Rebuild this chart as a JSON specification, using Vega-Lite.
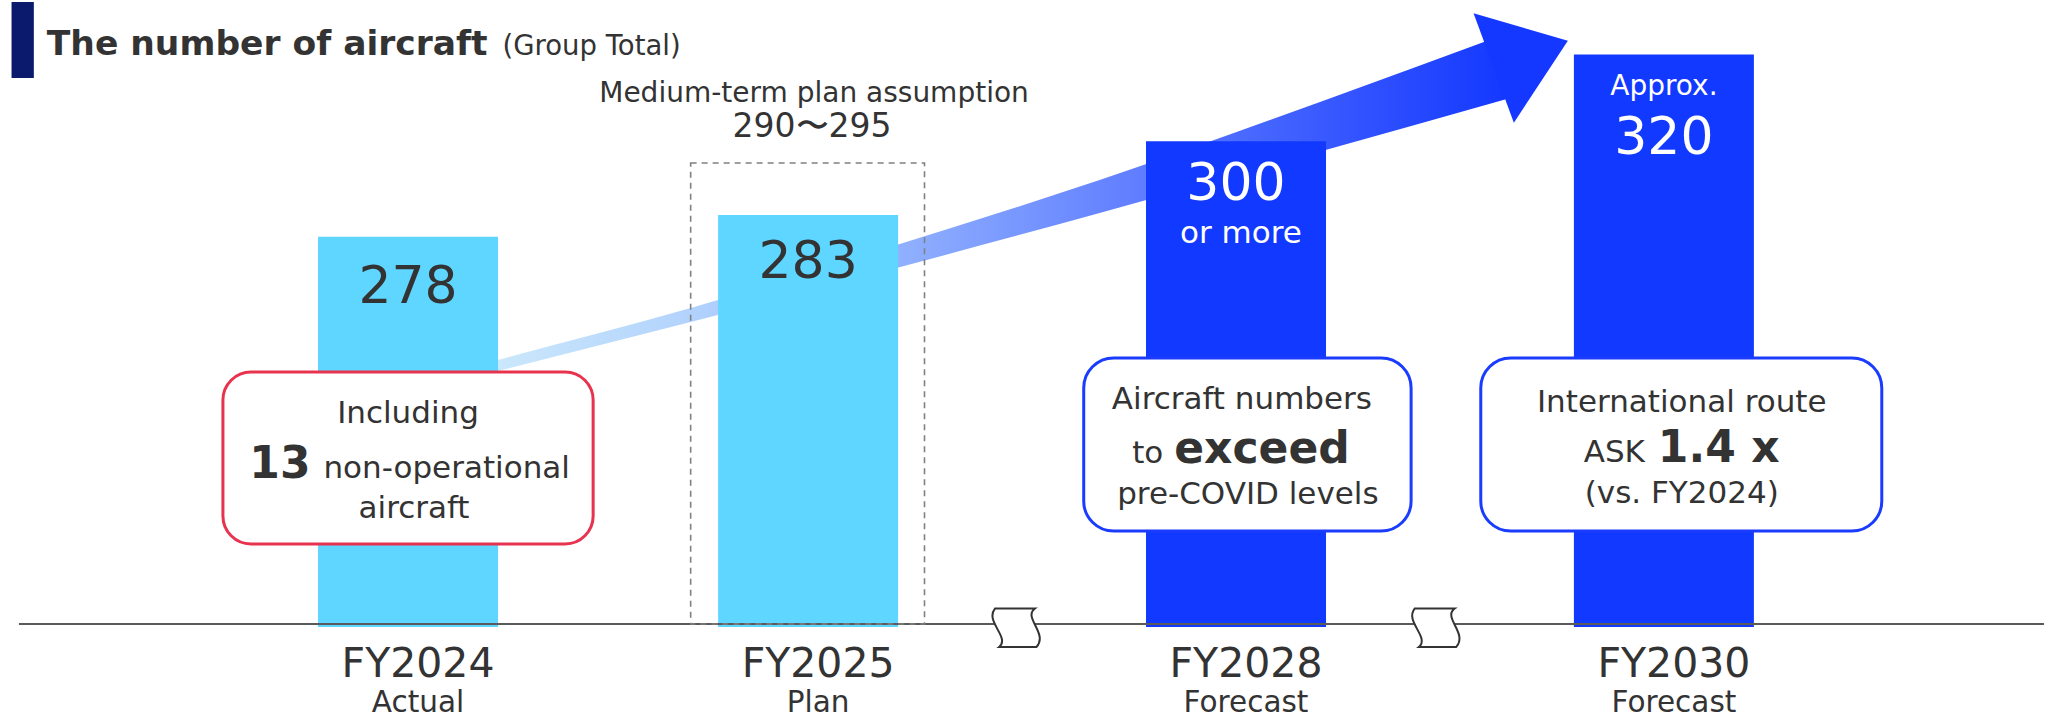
{
  "$schema": "https://vega.github.io/schema/vega-lite/v6.json",
  "width": 2049,
  "height": 719,
  "autosize": {"type": "none"},
  "padding": 0,
  "background": "white",
  "config": {"view": {"stroke": null}, "axis": {"disable": true}, "text": {"font": "DejaVu Sans"}},
  "datasets": {
    "fleet": [
      {"fy": "FY2024", "status": "Actual", "aircraft": 278, "slot": 0},
      {"fy": "FY2025", "status": "Plan", "aircraft": 283, "slot": 0.935},
      {"fy": "FY2028", "status": "Forecast", "aircraft": 300, "slot": 1.935},
      {"fy": "FY2030", "status": "Forecast", "aircraft": 320, "slot": 2.935}
    ],
    "arrow": [
      {"pos": 0.1512, "upper": 248.06, "lower": 245.62},
      {"pos": 0.2093, "upper": 249.61, "lower": 247.07},
      {"pos": 0.6605, "upper": 261.59, "lower": 258.36},
      {"pos": 1.1419, "upper": 276.1, "lower": 270.8},
      {"pos": 1.6163, "upper": 291.07, "lower": 283.47},
      {"pos": 2.1442, "upper": 309.5, "lower": 297.98},
      {"pos": 2.5698, "upper": 324.87, "lower": 309.8}
    ]
  },
  "layer": [
    {
      "data": {"name": "arrow"},
      "mark": {"type": "area", "interpolate": "monotone", "fill": {"gradient": "linear", "x1": 0, "y1": 0, "x2": 1, "y2": 0, "stops": [{"offset": 0, "color": "#cdeafb"}, {"offset": 0.2, "color": "#b4d4fd"}, {"offset": 0.4, "color": "#93b3fe"}, {"offset": 0.65, "color": "#5e7cff"}, {"offset": 0.85, "color": "#3354ff"}, {"offset": 1, "color": "#1438ff"}]}},
      "encoding": {
        "x": {"field": "pos", "type": "quantitative", "scale": {"domain": [-0.9419, 3.8233], "nice": false, "zero": false}},
        "y": {"field": "upper", "type": "quantitative", "scale": {"domain": [166.91, 332.54], "nice": false, "zero": false}},
        "y2": {"field": "lower"}
      }
    },
    {
      "data": {"values": [{}]},
      "mark": {"type": "point", "shape": "M-0.898,-0.912L0.988,-0.364L-0.092,1.276Z", "size": 10000, "filled": true, "fill": "#1438ff", "opacity": 1, "strokeWidth": 0},
      "encoding": {
        "x": {"datum": 2.5951, "type": "quantitative", "scale": {"domain": [-0.9419, 3.8233], "nice": false, "zero": false}},
        "y": {"datum": 318.97, "type": "quantitative", "scale": {"domain": [166.91, 332.54], "nice": false, "zero": false}}
      }
    },
    {
      "data": {"name": "fleet"},
      "mark": {"type": "bar", "width": 180},
      "encoding": {
        "x": {"field": "slot", "type": "quantitative", "scale": {"domain": [-0.9419, 3.8233], "nice": false, "zero": false}},
        "y": {"field": "aircraft", "type": "quantitative", "scale": {"domain": [166.91, 332.54], "nice": false, "zero": false}},
        "y2": {"datum": 188.1},
        "color": {"field": "status", "type": "nominal", "scale": {"domain": ["Actual", "Plan", "Forecast"], "range": ["#5fd6ff", "#5fd6ff", "#1239ff"]}, "legend": null}
      }
    },
    {
      "data": {"values": [{}]},
      "mark": {"type": "rule", "color": "#5a5a5a", "strokeWidth": 2},
      "encoding": {
        "x": {"datum": -0.9093, "type": "quantitative", "scale": {"domain": [-0.9419, 3.8233], "nice": false, "zero": false}},
        "x2": {"datum": 3.8233},
        "y": {"datum": 188.79, "type": "quantitative", "scale": {"domain": [166.91, 332.54], "nice": false, "zero": false}}
      }
    },
    {
      "data": {"values": [{}]},
      "mark": {"type": "rect", "fillOpacity": 0, "stroke": "#808080", "strokeDash": [6, 5], "strokeWidth": 1.6},
      "encoding": {
        "x": {"datum": 0.6605, "type": "quantitative", "scale": {"domain": [-0.9419, 3.8233], "nice": false, "zero": false}},
        "x2": {"datum": 1.207},
        "y": {"datum": 294.99, "type": "quantitative", "scale": {"domain": [166.91, 332.54], "nice": false, "zero": false}},
        "y2": {"datum": 188.79}
      }
    },
    {
      "data": {"values": [{}]},
      "mark": {"type": "point", "shape": "M-1.08,-0.95L0.92,-0.95C0.3,-0.5 1.6,0.3 1.0,0.97L-0.87,0.97C-0.3,0.5 -1.6,-0.3 -1.08,-0.95Z", "size": 1600, "filled": true, "fill": "white", "stroke": "#333333", "strokeWidth": 2, "opacity": 1},
      "encoding": {
        "x": {"datum": 1.4221, "type": "quantitative", "scale": {"domain": [-0.9419, 3.8233], "nice": false, "zero": false}},
        "y": {"datum": 187.98, "type": "quantitative", "scale": {"domain": [166.91, 332.54], "nice": false, "zero": false}}
      }
    },
    {
      "data": {"values": [{}]},
      "mark": {"type": "point", "shape": "M-1.08,-0.95L0.92,-0.95C0.3,-0.5 1.6,0.3 1.0,0.97L-0.87,0.97C-0.3,0.5 -1.6,-0.3 -1.08,-0.95Z", "size": 1600, "filled": true, "fill": "white", "stroke": "#333333", "strokeWidth": 2, "opacity": 1},
      "encoding": {
        "x": {"datum": 2.403, "type": "quantitative", "scale": {"domain": [-0.9419, 3.8233], "nice": false, "zero": false}},
        "y": {"datum": 187.98, "type": "quantitative", "scale": {"domain": [166.91, 332.54], "nice": false, "zero": false}}
      }
    },
    {
      "data": {"values": [{}]},
      "mark": {"type": "rect", "fill": "white", "stroke": "#e8334f", "strokeWidth": 3, "cornerRadius": 28},
      "encoding": {
        "x": {"datum": -0.4326, "type": "quantitative", "scale": {"domain": [-0.9419, 3.8233], "nice": false, "zero": false}},
        "x2": {"datum": 0.4326},
        "y": {"datum": 246.84, "type": "quantitative", "scale": {"domain": [166.91, 332.54], "nice": false, "zero": false}},
        "y2": {"datum": 207.22}
      }
    },
    {
      "data": {"values": [{}]},
      "mark": {"type": "rect", "fill": "white", "stroke": "#1a3cff", "strokeWidth": 3, "cornerRadius": 30},
      "encoding": {
        "x": {"datum": 1.5791, "type": "quantitative", "scale": {"domain": [-0.9419, 3.8233], "nice": false, "zero": false}},
        "x2": {"datum": 2.3442},
        "y": {"datum": 250.07, "type": "quantitative", "scale": {"domain": [166.91, 332.54], "nice": false, "zero": false}},
        "y2": {"datum": 210.21}
      }
    },
    {
      "data": {"values": [{}]},
      "mark": {"type": "rect", "fill": "white", "stroke": "#1a3cff", "strokeWidth": 3, "cornerRadius": 30},
      "encoding": {
        "x": {"datum": 2.507, "type": "quantitative", "scale": {"domain": [-0.9419, 3.8233], "nice": false, "zero": false}},
        "x2": {"datum": 3.4442},
        "y": {"datum": 250.07, "type": "quantitative", "scale": {"domain": [166.91, 332.54], "nice": false, "zero": false}},
        "y2": {"datum": 210.21}
      }
    },
    {
      "data": {"values": [{}]},
      "mark": {"type": "rect", "fill": "#0c1a6e"},
      "encoding": {
        "x": {"datum": -0.9266, "type": "quantitative", "scale": {"domain": [-0.9419, 3.8233], "nice": false, "zero": false}},
        "x2": {"datum": -0.8745},
        "y": {"datum": 332.08, "type": "quantitative", "scale": {"domain": [166.91, 332.54], "nice": false, "zero": false}},
        "y2": {"datum": 314.57}
      }
    },
    {
      "data": {"values": [{}]},
      "mark": {"type": "text", "text": "The number of aircraft", "fontSize": 34.5, "fontWeight": "bold", "color": "#333333", "align": "left", "baseline": "alphabetic"},
      "encoding": {
        "x": {"datum": -0.8442, "type": "quantitative", "scale": {"domain": [-0.9419, 3.8233], "nice": false, "zero": false}},
        "y": {"datum": 319.87, "type": "quantitative", "scale": {"domain": [166.91, 332.54], "nice": false, "zero": false}}
      }
    },
    {
      "data": {"values": [{}]},
      "mark": {"type": "text", "text": "(Group Total)", "fontSize": 27.5, "color": "#333333", "align": "left", "baseline": "alphabetic"},
      "encoding": {
        "x": {"datum": 0.2209, "type": "quantitative", "scale": {"domain": [-0.9419, 3.8233], "nice": false, "zero": false}},
        "y": {"datum": 319.87, "type": "quantitative", "scale": {"domain": [166.91, 332.54], "nice": false, "zero": false}}
      }
    },
    {
      "data": {"values": [{}]},
      "mark": {"type": "text", "text": "Medium-term plan assumption", "fontSize": 28, "color": "#333333", "align": "center", "baseline": "alphabetic"},
      "encoding": {
        "x": {"datum": 0.9488, "type": "quantitative", "scale": {"domain": [-0.9419, 3.8233], "nice": false, "zero": false}},
        "y": {"datum": 309.04, "type": "quantitative", "scale": {"domain": [166.91, 332.54], "nice": false, "zero": false}}
      }
    },
    {
      "data": {"values": [{}]},
      "mark": {"type": "text", "text": "290〜295", "fontSize": 33, "color": "#333333", "align": "center", "baseline": "alphabetic"},
      "encoding": {
        "x": {"datum": 0.9442, "type": "quantitative", "scale": {"domain": [-0.9419, 3.8233], "nice": false, "zero": false}},
        "y": {"datum": 300.98, "type": "quantitative", "scale": {"domain": [166.91, 332.54], "nice": false, "zero": false}}
      }
    },
    {
      "data": {"values": [{}]},
      "mark": {"type": "text", "text": "278", "fontSize": 52, "color": "#333333", "align": "center", "baseline": "alphabetic"},
      "encoding": {
        "x": {"datum": 0, "type": "quantitative", "scale": {"domain": [-0.9419, 3.8233], "nice": false, "zero": false}},
        "y": {"datum": 262.74, "type": "quantitative", "scale": {"domain": [166.91, 332.54], "nice": false, "zero": false}}
      }
    },
    {
      "data": {"values": [{}]},
      "mark": {"type": "text", "text": "283", "fontSize": 52, "color": "#333333", "align": "center", "baseline": "alphabetic"},
      "encoding": {
        "x": {"datum": 0.935, "type": "quantitative", "scale": {"domain": [-0.9419, 3.8233], "nice": false, "zero": false}},
        "y": {"datum": 268.5, "type": "quantitative", "scale": {"domain": [166.91, 332.54], "nice": false, "zero": false}}
      }
    },
    {
      "data": {"values": [{}]},
      "mark": {"type": "text", "text": "300", "fontSize": 52, "color": "white", "align": "center", "baseline": "alphabetic"},
      "encoding": {
        "x": {"datum": 1.9349, "type": "quantitative", "scale": {"domain": [-0.9419, 3.8233], "nice": false, "zero": false}},
        "y": {"datum": 286.46, "type": "quantitative", "scale": {"domain": [166.91, 332.54], "nice": false, "zero": false}}
      }
    },
    {
      "data": {"values": [{}]},
      "mark": {"type": "text", "text": "or more", "fontSize": 31, "color": "white", "align": "center", "baseline": "alphabetic"},
      "encoding": {
        "x": {"datum": 1.9465, "type": "quantitative", "scale": {"domain": [-0.9419, 3.8233], "nice": false, "zero": false}},
        "y": {"datum": 276.56, "type": "quantitative", "scale": {"domain": [166.91, 332.54], "nice": false, "zero": false}}
      }
    },
    {
      "data": {"values": [{}]},
      "mark": {"type": "text", "text": "Approx.", "fontSize": 28, "color": "white", "align": "center", "baseline": "alphabetic"},
      "encoding": {
        "x": {"datum": 2.935, "type": "quantitative", "scale": {"domain": [-0.9419, 3.8233], "nice": false, "zero": false}},
        "y": {"datum": 310.65, "type": "quantitative", "scale": {"domain": [166.91, 332.54], "nice": false, "zero": false}}
      }
    },
    {
      "data": {"values": [{}]},
      "mark": {"type": "text", "text": "320", "fontSize": 52, "color": "white", "align": "center", "baseline": "alphabetic"},
      "encoding": {
        "x": {"datum": 2.935, "type": "quantitative", "scale": {"domain": [-0.9419, 3.8233], "nice": false, "zero": false}},
        "y": {"datum": 297.06, "type": "quantitative", "scale": {"domain": [166.91, 332.54], "nice": false, "zero": false}}
      }
    },
    {
      "data": {"values": [{}]},
      "mark": {"type": "text", "text": "Including", "fontSize": 31, "color": "#333333", "align": "center", "baseline": "alphabetic"},
      "encoding": {
        "x": {"datum": 0, "type": "quantitative", "scale": {"domain": [-0.9419, 3.8233], "nice": false, "zero": false}},
        "y": {"datum": 235.09, "type": "quantitative", "scale": {"domain": [166.91, 332.54], "nice": false, "zero": false}}
      }
    },
    {
      "data": {"values": [{}]},
      "mark": {"type": "text", "text": "13", "fontSize": 44, "fontWeight": "bold", "color": "#333333", "align": "right", "baseline": "alphabetic"},
      "encoding": {
        "x": {"datum": -0.2279, "type": "quantitative", "scale": {"domain": [-0.9419, 3.8233], "nice": false, "zero": false}},
        "y": {"datum": 222.42, "type": "quantitative", "scale": {"domain": [166.91, 332.54], "nice": false, "zero": false}}
      }
    },
    {
      "data": {"values": [{}]},
      "mark": {"type": "text", "text": "non-operational", "fontSize": 31, "color": "#333333", "align": "left", "baseline": "alphabetic"},
      "encoding": {
        "x": {"datum": -0.1977, "type": "quantitative", "scale": {"domain": [-0.9419, 3.8233], "nice": false, "zero": false}},
        "y": {"datum": 222.42, "type": "quantitative", "scale": {"domain": [166.91, 332.54], "nice": false, "zero": false}}
      }
    },
    {
      "data": {"values": [{}]},
      "mark": {"type": "text", "text": "aircraft", "fontSize": 31, "color": "#333333", "align": "center", "baseline": "alphabetic"},
      "encoding": {
        "x": {"datum": 0.014, "type": "quantitative", "scale": {"domain": [-0.9419, 3.8233], "nice": false, "zero": false}},
        "y": {"datum": 213.21, "type": "quantitative", "scale": {"domain": [166.91, 332.54], "nice": false, "zero": false}}
      }
    },
    {
      "data": {"values": [{}]},
      "mark": {"type": "text", "text": "Aircraft numbers", "fontSize": 31, "color": "#333333", "align": "center", "baseline": "alphabetic"},
      "encoding": {
        "x": {"datum": 1.9488, "type": "quantitative", "scale": {"domain": [-0.9419, 3.8233], "nice": false, "zero": false}},
        "y": {"datum": 238.32, "type": "quantitative", "scale": {"domain": [166.91, 332.54], "nice": false, "zero": false}}
      }
    },
    {
      "data": {"values": [{}]},
      "mark": {"type": "text", "text": "to", "fontSize": 31, "color": "#333333", "align": "right", "baseline": "alphabetic"},
      "encoding": {
        "x": {"datum": 1.7651, "type": "quantitative", "scale": {"domain": [-0.9419, 3.8233], "nice": false, "zero": false}},
        "y": {"datum": 225.88, "type": "quantitative", "scale": {"domain": [166.91, 332.54], "nice": false, "zero": false}}
      }
    },
    {
      "data": {"values": [{}]},
      "mark": {"type": "text", "text": "exceed", "fontSize": 44, "fontWeight": "bold", "color": "#333333", "align": "left", "baseline": "alphabetic"},
      "encoding": {
        "x": {"datum": 1.7907, "type": "quantitative", "scale": {"domain": [-0.9419, 3.8233], "nice": false, "zero": false}},
        "y": {"datum": 225.88, "type": "quantitative", "scale": {"domain": [166.91, 332.54], "nice": false, "zero": false}}
      }
    },
    {
      "data": {"values": [{}]},
      "mark": {"type": "text", "text": "pre-COVID levels", "fontSize": 31, "color": "#333333", "align": "center", "baseline": "alphabetic"},
      "encoding": {
        "x": {"datum": 1.9628, "type": "quantitative", "scale": {"domain": [-0.9419, 3.8233], "nice": false, "zero": false}},
        "y": {"datum": 216.43, "type": "quantitative", "scale": {"domain": [166.91, 332.54], "nice": false, "zero": false}}
      }
    },
    {
      "data": {"values": [{}]},
      "mark": {"type": "text", "text": "International route", "fontSize": 31, "color": "#333333", "align": "center", "baseline": "alphabetic"},
      "encoding": {
        "x": {"datum": 2.9767, "type": "quantitative", "scale": {"domain": [-0.9419, 3.8233], "nice": false, "zero": false}},
        "y": {"datum": 237.63, "type": "quantitative", "scale": {"domain": [166.91, 332.54], "nice": false, "zero": false}}
      }
    },
    {
      "data": {"values": [{}]},
      "mark": {"type": "text", "text": "ASK", "fontSize": 31, "color": "#333333", "align": "right", "baseline": "alphabetic"},
      "encoding": {
        "x": {"datum": 2.8907, "type": "quantitative", "scale": {"domain": [-0.9419, 3.8233], "nice": false, "zero": false}},
        "y": {"datum": 226.11, "type": "quantitative", "scale": {"domain": [166.91, 332.54], "nice": false, "zero": false}}
      }
    },
    {
      "data": {"values": [{}]},
      "mark": {"type": "text", "text": "1.4 x", "fontSize": 44, "fontWeight": "bold", "color": "#333333", "align": "left", "baseline": "alphabetic"},
      "encoding": {
        "x": {"datum": 2.9209, "type": "quantitative", "scale": {"domain": [-0.9419, 3.8233], "nice": false, "zero": false}},
        "y": {"datum": 226.11, "type": "quantitative", "scale": {"domain": [166.91, 332.54], "nice": false, "zero": false}}
      }
    },
    {
      "data": {"values": [{}]},
      "mark": {"type": "text", "text": "(vs. FY2024)", "fontSize": 31, "color": "#333333", "align": "center", "baseline": "alphabetic"},
      "encoding": {
        "x": {"datum": 2.9767, "type": "quantitative", "scale": {"domain": [-0.9419, 3.8233], "nice": false, "zero": false}},
        "y": {"datum": 216.66, "type": "quantitative", "scale": {"domain": [166.91, 332.54], "nice": false, "zero": false}}
      }
    },
    {
      "data": {"name": "fleet"},
      "mark": {"type": "text", "fontSize": 41, "color": "#333333", "align": "center", "baseline": "alphabetic", "dx": 10},
      "encoding": {
        "x": {"field": "slot", "type": "quantitative", "scale": {"domain": [-0.9419, 3.8233], "nice": false, "zero": false}},
        "y": {"datum": 176.58, "type": "quantitative", "scale": {"domain": [166.91, 332.54], "nice": false, "zero": false}},
        "text": {"field": "fy"}
      }
    },
    {
      "data": {"name": "fleet"},
      "mark": {"type": "text", "fontSize": 29.5, "color": "#333333", "align": "center", "baseline": "alphabetic", "dx": 10},
      "encoding": {
        "x": {"field": "slot", "type": "quantitative", "scale": {"domain": [-0.9419, 3.8233], "nice": false, "zero": false}},
        "y": {"datum": 168.63, "type": "quantitative", "scale": {"domain": [166.91, 332.54], "nice": false, "zero": false}},
        "text": {"field": "status"}
      }
    }
  ]
}
